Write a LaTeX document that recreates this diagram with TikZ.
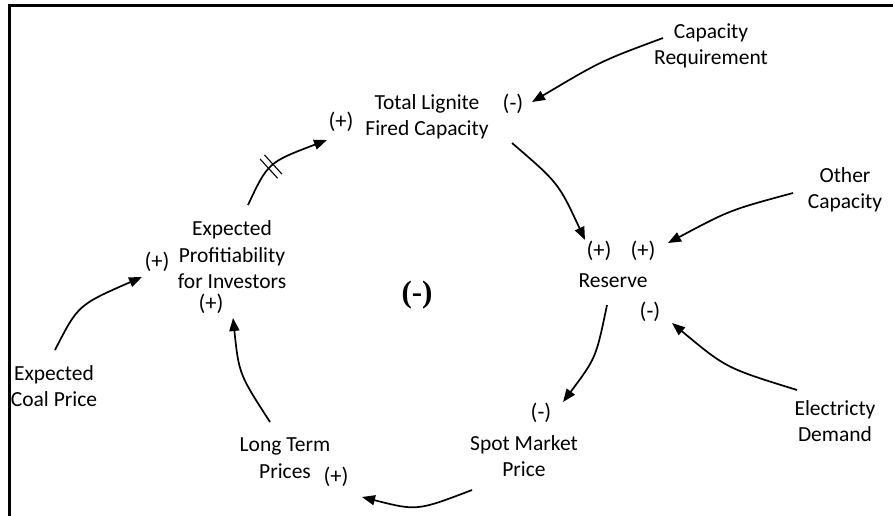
\documentclass[tikz,border=0pt]{standalone}
\usepackage{fontspec}
\setmainfont{Carlito}
\newfontfamily\loopfont{Liberation Serif}
\usetikzlibrary{arrows.meta,decorations.markings}
\begin{document}
\begin{tikzpicture}[x=1pt,y=-1pt,
  lbl/.style={font=\fontsize{21.5}{26.5}\selectfont, align=center, inner sep=0pt},
  sgn/.style={font=\fontsize{22.5}{26}\selectfont, inner sep=0pt},
  arr/.style={line width=1.7pt, -{Triangle[length=13pt,width=10pt]}},
  tick/.style={line width=1.1pt, -},
  frame/.style={line width=3pt}]
\useasboundingbox (0,0) rectangle (893,516);
\draw[frame] (893,5.5) -- (9,5.5) -- (9,516);
% variables
\node[lbl] (cr)  at (711,46)  {Capacity\\Requirement};
\node[lbl] (tl)  at (427,117) {Total Lignite\\Fired Capacity};
\node[sgn] (tlp) at (341,122) {(+)};
\node[sgn] (tlm) at (513,104) {(-)};
\node[lbl] (oc)  at (845,190) {Other\\Capacity};
\node[sgn] (rp1) at (599,251) {(+)};
\node[sgn] (rp2) at (643,251) {(+)};
\node[lbl] (res) at (613,281) {Reserve};
\node[sgn] (rm)  at (650,312) {(-)};
\node[lbl] (ed)  at (835,421) {Electricty\\Demand};
\node[sgn] (smm) at (541,413) {(-)};
\node[lbl] (smp) at (524,456) {Spot Market\\Price};
\node[lbl] (ltp) at (285,458) {Long Term\\Prices};
\node[sgn] (ltpp) at (336,477) {(+)};
\node[lbl] (epi) at (232,255) {Expected\\Profitiability\\for Investors};
\node[sgn] (epp1) at (157,262) {(+)};
\node[sgn] (epp2) at (211,304) {(+)};
\node[lbl] (ecp) at (54,386) {Expected\\Coal Price};
\node[inner sep=0pt, font=\loopfont\bfseries\fontsize{31}{31}\selectfont] (loop) at (417,295) {(-)};
% links
\draw[arr] ([shift={(-48,-8)}]cr.center) .. controls (601,61) .. ([shift={(19,-2)}]tlm.center);
\draw[arr] ([shift={(85,26)}]tl.center) .. controls (558.5,183) .. ([shift={(-14,-11)}]rp1.center);
\draw[arr] ([shift={(-52,3)}]oc.center) .. controls (730,210) .. ([shift={(25,-8)}]rp2.center);
\draw[arr] ([shift={(-38,-31)}]ed.center) .. controls (726,368) .. ([shift={(22,11)}]rm.center);
\draw[arr] ([shift={(-6,24)}]res.center) .. controls (596,358) .. ([shift={(22,-11)}]smm.center);
\draw[arr] ([shift={(-52,34)}]smp.center) .. controls (417,511) .. ([shift={(26,20)}]ltpp.center);
\draw[arr] ([shift={(-15,-36)}]ltp.center) .. controls (239,374) .. ([shift={(22,14)}]epp2.center);
\draw[arr] ([shift={(1,-36)}]ecp.center) .. controls (78,305) .. ([shift={(-15,15)}]epp1.center);
\draw[arr, postaction={decorate}, decoration={markings, mark=at position 0.42 with {
    \draw[tick] (-3,-13) -- (-3,13);
    \draw[tick] (3,-13) -- (3,13);}}]
  ([shift={(16,-50)}]epi.center) .. controls (268,162.5) .. ([shift={(-14,18)}]tlp.center);
\end{tikzpicture}
\end{document}
